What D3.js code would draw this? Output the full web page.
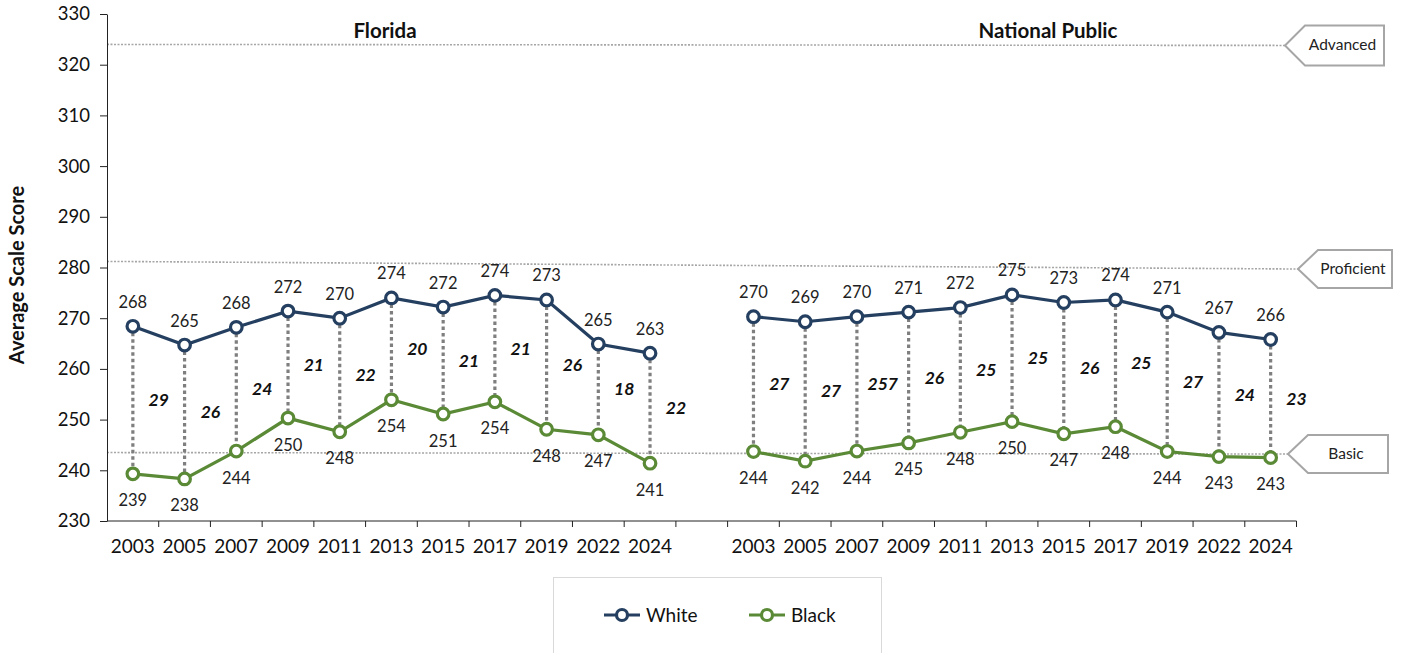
<!DOCTYPE html>
<html><head><meta charset="utf-8">
<script src="https://cdn.jsdelivr.net/npm/d3@7"></script>
<style>body{margin:0;background:#fff}svg{display:block}</style>
</head><body>
<svg id="c" width="1406" height="653"></svg>
<script>
const years = ["2003","2005","2007","2009","2011","2013","2015","2017","2019","2022","2024"];
const panels = ["Florida","National Public"];
const flWhite = [268.4,264.7,268.2,271.4,270.0,274.0,272.2,274.5,273.6,264.9,263.1];
const flBlack = [239.3,238.3,243.8,250.3,247.6,253.9,251.1,253.5,248.1,247.0,241.4];
const npWhite = [270.3,269.3,270.3,271.2,272.1,274.6,273.1,273.6,271.2,267.2,265.8];
const npBlack = [243.7,241.8,243.8,245.4,247.5,249.6,247.2,248.6,243.7,242.7,242.5];
const flWhiteLabels = ["268","265","268","272","270","274","272","274","273","265","263"];
const flBlackLabels = ["239","238","244","250","248","254","251","254","248","247","241"];
const npWhiteLabels = ["270","269","270","271","272","275","273","274","271","267","266"];
const npBlackLabels = ["244","242","244","245","248","250","247","248","244","243","243"];
const flGaps = ["29","26","24","21","22","20","21","21","26","18","22"];
const npGaps = ["27","27","257","26","25","25","26","25","27","24","23"];
const seriesNames = ["White","Black"];
const seriesColors = ["#243f60","#5a8a36"];
const levelNames = ["Advanced","Proficient","Basic"];
const levelLeft = [324.0,281.2,243.5];
const levelRight = [323.8,279.7,243.2];
const yTicks = [230,240,250,260,270,280,290,300,310,320,330];

const svg = d3.select("#c");
const L = 107, R = 1296.5, T = 14, B = 521;
const keys = [...years.map(y=>"FL|"+y), "gap", ...years.map(y=>"NP|"+y)];
const x = d3.scaleBand().domain(keys).range([L,R]).padding(0);
const y = d3.scaleLinear().domain([230,330]).range([B,T]);
const cx = k => x(k) + x.bandwidth()/2;
const axisFont = "Lato, 'Open Sans', sans-serif";

// level lines
const tagX = [1285,1298,1288];
levelNames.forEach((n,i)=>{
  svg.append("line").attr("x1",L).attr("x2",tagX[i])
    .attr("y1",y(levelLeft[i])).attr("y2",y(levelRight[i]))
    .attr("stroke","#a6a6a6").attr("stroke-width",1.6).attr("stroke-dasharray","2,1.5");
});
// tags
const tagW = [99,94,100], tagH=[40,38,38];
levelNames.forEach((n,i)=>{
  const ty = y(levelRight[i]);
  const x0 = tagX[i], h=tagH[i]/2, x1=x0+20, x2=x0+tagW[i];
  svg.append("polygon").attr("points",[[x0,ty],[x1,ty-h],[x2,ty-h],[x2,ty+h],[x1,ty+h]].map(p=>p.join(",")).join(" "))
    .attr("fill","#fff").attr("stroke","#a6a6a6").attr("stroke-width",2);
  svg.append("text").attr("x",(x1+x2)/2 - 2).attr("y",ty+5).attr("text-anchor","middle")
    .attr("font-family",axisFont).attr("font-size",15.5).attr("fill","#222").text(n);
});

// axes
const yAxis = d3.axisLeft(y).tickValues(yTicks).tickSize(7).tickSizeOuter(0).tickPadding(10);
const gy = svg.append("g").attr("transform",`translate(${L},0)`).call(yAxis);
gy.selectAll("text").attr("font-family",axisFont).attr("font-size",18.5).attr("fill","#111");
gy.selectAll("line,path").attr("stroke","#222");

const xAxis = d3.axisBottom(x).tickValues(keys.filter(k=>k!=="gap")).tickFormat(k=>k.split("|")[1]).tickSize(0).tickPadding(19);
const gx = svg.append("g").attr("transform",`translate(0,${B})`).call(xAxis);
gx.select(".domain").attr("stroke","#222").attr("d",`M${L},0H${R}`);
gx.selectAll("text").attr("font-family",axisFont).attr("font-size",19).attr("fill","#111");
keys.forEach((k,i)=>{
  gx.append("line").attr("x1",x(k)+x.bandwidth()).attr("x2",x(k)+x.bandwidth()).attr("y1",0).attr("y2",6).attr("stroke","#222");
});

// y title
svg.append("text").attr("transform","translate(24,275) rotate(-90)").attr("text-anchor","middle")
  .attr("font-family",axisFont).attr("font-weight","bold").attr("font-size",20).attr("fill","#111").text("Average Scale Score");

// panel titles
const titleX = [385,1048];
const panelData = [
  {p:"FL", white:flWhite, black:flBlack, wl:flWhiteLabels, bl:flBlackLabels, gaps:flGaps},
  {p:"NP", white:npWhite, black:npBlack, wl:npWhiteLabels, bl:npBlackLabels, gaps:npGaps}
];
panelData.forEach((pd,pi)=>{
  const ks = years.map(yr=>pd.p+"|"+yr);
  svg.append("text").attr("x",titleX[pi]).attr("y",38).attr("text-anchor","middle")
    .attr("font-family",axisFont).attr("font-weight","bold").attr("font-size",20.5).attr("fill","#111").text(panels[pi]);
  // connectors
  ks.forEach((k,i)=>{
    svg.append("line").attr("x1",cx(k)).attr("x2",cx(k)).attr("y1",y(pd.white[i])).attr("y2",y(pd.black[i]))
      .attr("stroke","#7f7f7f").attr("stroke-width",3.2).attr("stroke-dasharray","3.5,3");
  });
  // gap labels
  ks.forEach((k,i)=>{
    svg.append("text").attr("x",cx(k)+x.bandwidth()/2).attr("y",(y(pd.white[i])+y(pd.black[i]))/2+6)
      .attr("text-anchor","middle").attr("font-family",axisFont).attr("font-weight","bold").attr("font-style","italic")
      .attr("font-size",17.5).attr("fill","#111").text(pd.gaps[i]);
  });
  [[pd.white,pd.wl,-1],[pd.black,pd.bl,1]].forEach(([vals,labs,dir],si)=>{
    const line = d3.line().x((d,i)=>cx(ks[i])).y(d=>y(d));
    svg.append("path").attr("d",line(vals)).attr("fill","none").attr("stroke",seriesColors[si]).attr("stroke-width",3.2);
    vals.forEach((v,i)=>{
      svg.append("circle").attr("cx",cx(ks[i])).attr("cy",y(v)).attr("r",5.8)
        .attr("fill","#fff").attr("stroke",seriesColors[si]).attr("stroke-width",3.2);
      svg.append("text").attr("x",cx(ks[i])).attr("y",y(v)+(dir<0?-24:27)+5.5).attr("text-anchor","middle")
        .attr("font-family",axisFont).attr("font-size",16.5).attr("fill","#222").text(labs[i]);
    });
  });
});

// legend
svg.append("rect").attr("x",553.5).attr("y",577.5).attr("width",328).attr("height",90)
  .attr("fill","#fff").attr("stroke","#d9d9d9").attr("stroke-width",1);
const legX = [604,749];
seriesNames.forEach((n,i)=>{
  const lx = legX[i], ly = 615;
  svg.append("line").attr("x1",lx).attr("x2",lx+36).attr("y1",ly).attr("y2",ly).attr("stroke",seriesColors[i]).attr("stroke-width",3.2);
  svg.append("circle").attr("cx",lx+18).attr("cy",ly).attr("r",5.5).attr("fill","#fff").attr("stroke",seriesColors[i]).attr("stroke-width",3.2);
  svg.append("text").attr("x",lx+42).attr("y",ly+6.5).attr("font-family",axisFont).attr("font-size",19).attr("fill","#111").text(n);
});
</script>
</body></html>
